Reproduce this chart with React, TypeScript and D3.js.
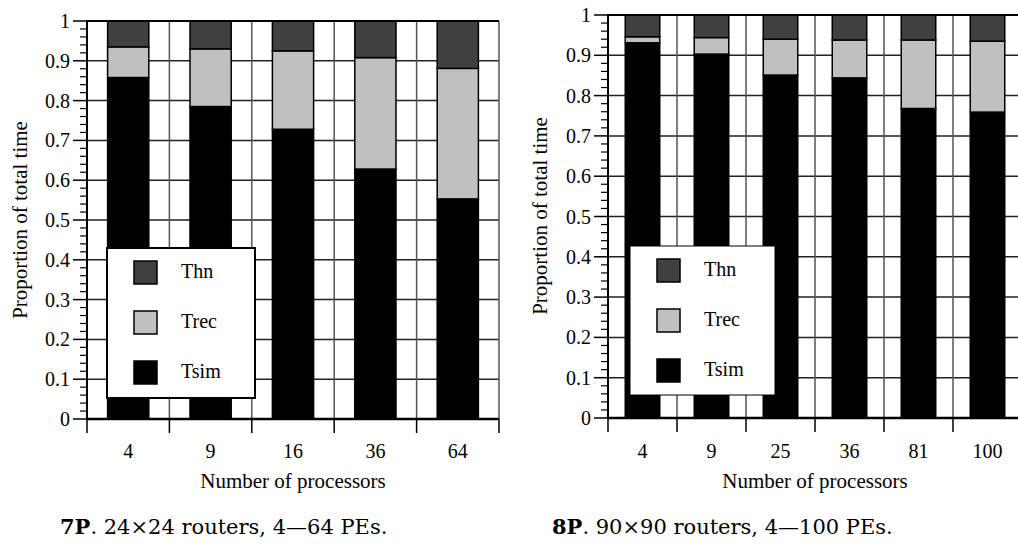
import React from 'react'
import * as d3 from 'd3'

// 7P: 24x24 routers
const cats7 = ['4', '9', '16', '36', '64']
const tsim7 = [0.858, 0.785, 0.728, 0.628, 0.553]
const trec7 = [0.077, 0.145, 0.197, 0.280, 0.328]
const thn7 = [0.065, 0.070, 0.075, 0.092, 0.119]

// 8P: 90x90 routers
const cats8 = ['4', '9', '25', '36', '81', '100']
const tsim8 = [0.931, 0.903, 0.851, 0.844, 0.768, 0.759]
const trec8 = [0.015, 0.041, 0.089, 0.094, 0.170, 0.176]
const thn8 = [0.054, 0.056, 0.060, 0.062, 0.062, 0.065]

const yTickLabels = ['0', '0.1', '0.2', '0.3', '0.4', '0.5', '0.6', '0.7', '0.8', '0.9', '1']
const seriesNames = ['Tsim', 'Trec', 'Thn']
const colors: Record<string, string> = {Tsim: '#000000', Trec: '#c0c0c0', Thn: '#404040'}

const serif = "'Liberation Serif', 'Times New Roman', serif"
const capFont = "'DejaVu Serif', serif"

const Panel = ({cats, tsim, trec, thn, box, legend, titleX, titleY}: any) => {
	const x = d3.scaleBand().domain(cats).range([box.x0, box.x1]).padding(0)
	const y = d3.scaleLinear().domain([0, 1]).range([box.y1, box.y0])

	const rows = cats.map((c: string, i: number) => ({cat: c, Tsim: tsim[i], Trec: trec[i], Thn: thn[i]}))
	const stacked = d3.stack<any>().keys(seriesNames)(rows)

	const bw = x.bandwidth() * 0.5
	const majors = d3.range(0, 11).map(i => i / 10)
	const minors = d3.range(0, 51).map(i => i / 50).filter((_, i) => i % 5 !== 0)
	const bounds = cats.map((c: string) => x(c) as number).concat([box.x1])

	return (
		<g>
			{/* gridlines */}
			{majors.map(v => (
				<line key={'h' + v} x1={box.x0} x2={box.x1} y1={y(v)} y2={y(v)} stroke='#222' strokeWidth={1.5} />
			))}
			{bounds.map((b: number, i: number) => (
				<line key={'v' + i} x1={b} x2={b} y1={box.y0} y2={box.y1} stroke='#555' strokeWidth={1.5} />
			))}

			{/* bars */}
			{stacked.map(s => (
				<g key={s.key}>
					{s.map((d: any) => (
						<rect key={d.data.cat}
							x={(x(d.data.cat) as number) + x.bandwidth() / 2 - bw / 2}
							y={y(d[1])}
							width={bw}
							height={y(d[0]) - y(d[1])}
							fill={colors[s.key]}
							stroke='#000' strokeWidth={1.5} />
					))}
				</g>
			))}

			{/* legend */}
			<rect x={legend.x} y={legend.y} width={legend.w} height={legend.h} fill='#fff' stroke='#000' strokeWidth={legend.border} />
			{['Thn', 'Trec', 'Tsim'].map((k, i) => (
				<g key={k}>
					<rect x={legend.x + 27} y={legend.y + 13 + i * 50} width={23} height={23} fill={colors[k]} stroke='#000' strokeWidth={1.5} />
					<text x={legend.x + 74} y={legend.y + 30 + i * 50} fontFamily={serif} fontSize={20}>{k}</text>
				</g>
			))}

			{/* frame / axes */}
			<line x1={box.x0} x2={box.x1} y1={box.y0} y2={box.y0} stroke='#000' strokeWidth={2} />
			<line x1={box.x0} x2={box.x0} y1={box.y0 - 1} y2={box.y1} stroke='#000' strokeWidth={2} />
			<line x1={box.x0} x2={box.x1} y1={box.y1} y2={box.y1} stroke='#000' strokeWidth={2.5} />

			{majors.map((v, i) => (
				<g key={'yt' + i}>
					<line x1={box.x0 - 14} x2={box.x0} y1={y(v)} y2={y(v)} stroke='#000' strokeWidth={1.5} />
					<text x={box.x0 - 17} y={y(v)} dy='0.35em' textAnchor='end' fontFamily={serif} fontSize={20}>{yTickLabels[i]}</text>
				</g>
			))}
			{minors.map((v, i) => (
				<line key={'ym' + i} x1={box.x0 - 7} x2={box.x0} y1={y(v)} y2={y(v)} stroke='#000' strokeWidth={1.2} />
			))}

			{bounds.map((b: number, i: number) => (
				<line key={'xt' + i} x1={b} x2={b} y1={box.y1} y2={box.y1 + 14} stroke='#000' strokeWidth={1.5} />
			))}
			{cats.map((c: string) => (
				<text key={'xl' + c} x={(x(c) as number) + x.bandwidth() / 2} y={458} textAnchor='middle' fontFamily={serif} fontSize={20}>{c}</text>
			))}

			<text x={(box.x0 + box.x1) / 2} y={488} textAnchor='middle' fontFamily={serif} fontSize={21}>Number of processors</text>
			<text transform={`translate(${titleX}, ${titleY}) rotate(-90)`} textAnchor='middle' fontFamily={serif} fontSize={21}>Proportion of total time</text>
		</g>
	)
}

export default function App() {
	return (
		<svg width={1018} height={554} style={{position: 'absolute', left: 0, top: 0, background: '#fff'}}>
			<rect width={1018} height={554} fill='#fff' />
			<Panel cats={cats7} tsim={tsim7} trec={trec7} thn={thn7}
				box={{x0: 87, x1: 499, y0: 21, y1: 419}}
				legend={{x: 107, y: 248, w: 148, h: 150, border: 2}}
				titleX={27} titleY={220} />
			<Panel cats={cats8} tsim={tsim8} trec={trec8} thn={thn8}
				box={{x0: 608, x1: 1022, y0: 15, y1: 418}}
				legend={{x: 630, y: 246, w: 145, h: 149, border: 1}}
				titleX={547} titleY={216} />

			<text x={60} y={534} fontFamily={capFont} fontSize={21}>
				<tspan fontWeight='bold'>7P</tspan>. 24×24 routers, 4—64 PEs.
			</text>
			<text x={552} y={534} fontFamily={capFont} fontSize={21}>
				<tspan fontWeight='bold'>8P</tspan>. 90×90 routers, 4—100 PEs.
			</text>
		</svg>
	)
}
